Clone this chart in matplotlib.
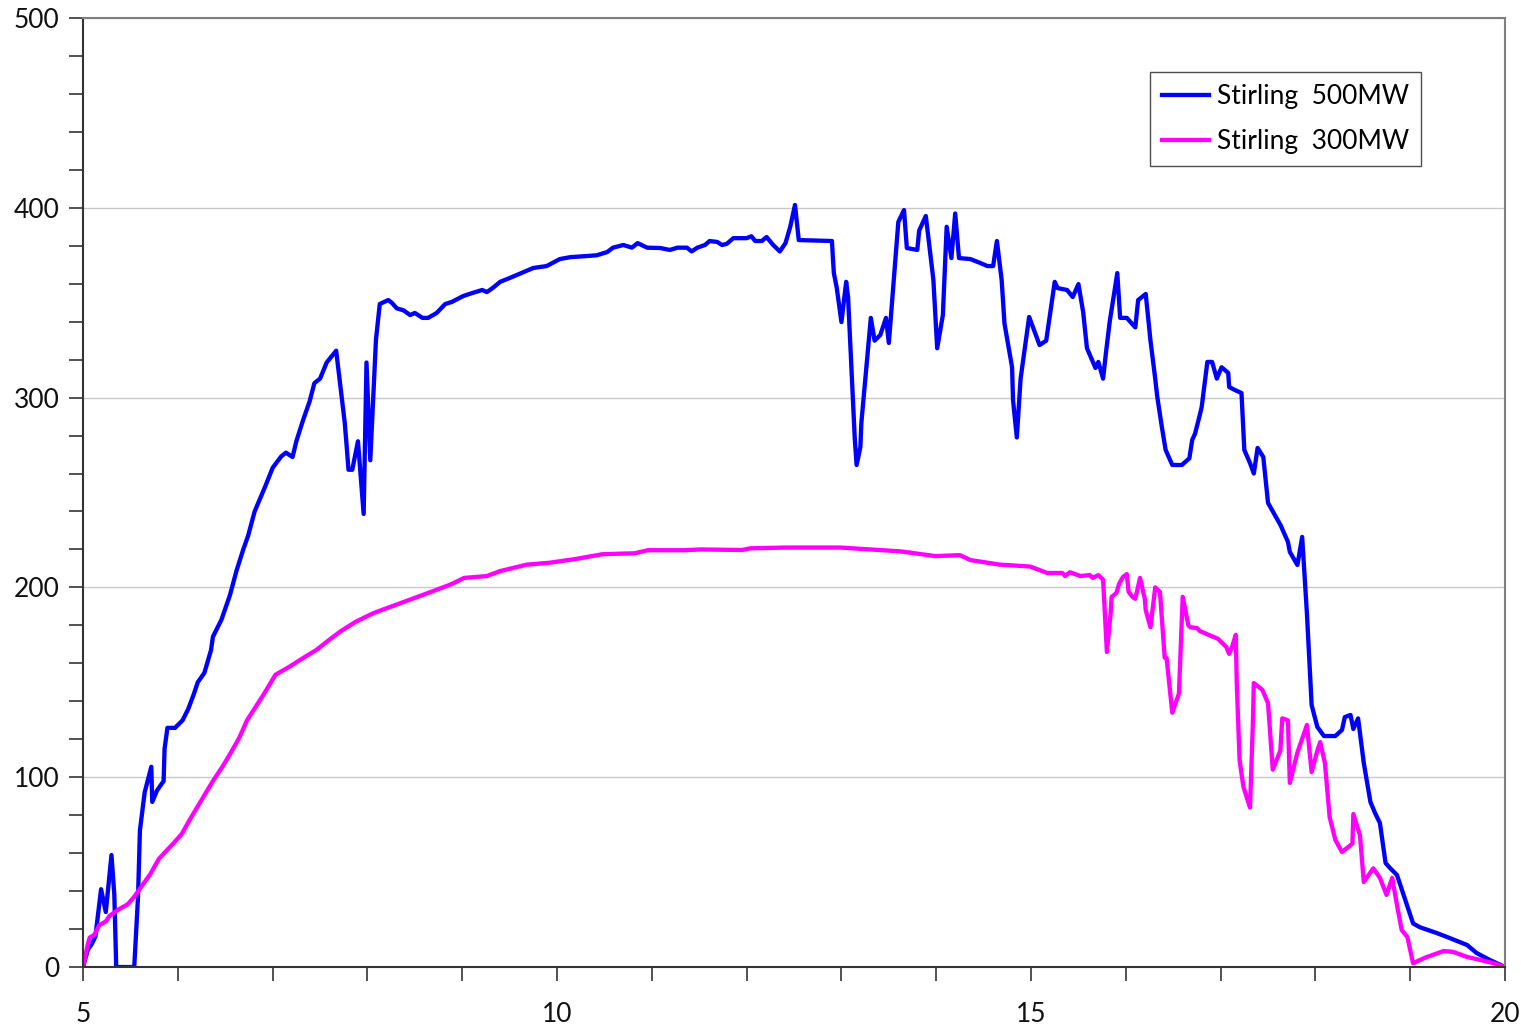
import matplotlib
matplotlib.use('Agg')
import matplotlib.pyplot as plt
from matplotlib.ticker import MultipleLocator, FixedLocator

# hours of day and output (MW)
hours_500 = [5.0, 5.05, 5.09, 5.13, 5.19, 5.24, 5.30, 5.33, 5.35, 5.54, 5.58, 5.60, 5.65, 5.72, 5.73,
             5.78, 5.85, 5.86, 5.89, 5.97, 6.05, 6.11, 6.17, 6.21, 6.28, 6.35, 6.37, 6.46, 6.55, 6.62,
             6.69, 6.74, 6.81, 6.92, 7.0, 7.09, 7.14, 7.21, 7.25, 7.32, 7.39, 7.44, 7.50, 7.57, 7.67,
             7.76, 7.78, 7.80, 7.84, 7.90, 7.96, 7.99, 8.03, 8.09, 8.13, 8.22, 8.26, 8.31, 8.38, 8.45,
             8.50, 8.58, 8.64, 8.73, 8.82, 8.89, 9.01, 9.10, 9.21, 9.26, 9.32, 9.40, 9.50, 9.64, 9.75,
             9.89, 10.03, 10.14, 10.32, 10.42, 10.53, 10.59, 10.70, 10.79, 10.85, 10.95, 11.09, 11.19,
             11.27, 11.37, 11.42, 11.48, 11.56, 11.61, 11.69, 11.74, 11.79, 11.86, 12.0, 12.05, 12.09,
             12.16, 12.21, 12.28, 12.35, 12.41, 12.46, 12.51, 12.55, 12.90, 12.91, 12.92, 12.95, 13.0,
             13.05, 13.07, 13.14, 13.16, 13.20, 13.21, 13.31, 13.35, 13.41, 13.47, 13.50, 13.60, 13.66,
             13.69, 13.80, 13.82, 13.89, 13.97, 14.01, 14.07, 14.11, 14.16, 14.20, 14.24, 14.36, 14.46,
             14.54, 14.60, 14.64, 14.69, 14.72, 14.80, 14.81, 14.85, 14.89, 14.98, 15.09, 15.16, 15.25,
             15.28, 15.38, 15.44, 15.50, 15.55, 15.59, 15.68, 15.71, 15.76, 15.79, 15.83, 15.91, 15.94,
             16.01, 16.10, 16.13, 16.21, 16.26, 16.31, 16.33, 16.38, 16.42, 16.49, 16.59, 16.67, 16.70,
             16.73, 16.78, 16.80, 16.86, 16.91, 16.96, 17.01, 17.08, 17.09, 17.15, 17.22, 17.25, 17.31,
             17.35, 17.39, 17.45, 17.50, 17.63, 17.71, 17.73, 17.81, 17.86, 17.91, 17.96, 18.02, 18.09,
             18.21, 18.28, 18.31, 18.37, 18.40, 18.45, 18.51, 18.58, 18.63, 18.68, 18.74, 18.79, 18.86,
             19.03, 19.10, 19.28, 19.39, 19.60, 19.70, 19.84, 20.0]
mw_500 = [0, 9, 12, 16, 41, 29, 59, 38, 0, 0, 37, 72, 92, 105.5, 87,
          93, 98, 115, 126, 126, 130, 136, 144, 150, 155, 167, 174, 183, 196, 209,
          220, 227, 240, 253, 263, 269, 271, 268.7, 277, 288, 298, 307.6, 310, 318.5, 324.7,
          287, 275, 262, 262, 277, 238.7, 318.5, 267, 330.6, 349.3, 351.4, 349.8, 347, 346, 343.5,
          344.6, 342, 342, 344.6, 349.3, 350.4, 353.5, 355, 356.7, 355.6, 357.7, 361, 363, 366, 368.3,
          369.3, 373, 374, 374.6, 375, 376.7, 379, 380.4, 379, 381.4, 379, 378.8, 377.8,
          379, 379, 377, 379, 380.4, 382.5, 382, 380.4, 381, 384, 384, 385, 382.5,
          382.5, 384.6, 380.4, 377, 381.4, 390, 401.5, 383, 382.5, 373.5, 365.6, 358, 339.8,
          361, 353, 279, 264.5, 274, 286.6, 342, 330, 333, 342, 328.8, 392.5, 398.8,
          378.8, 377.8, 388, 395.7, 362, 326, 343.5, 390, 373.5, 397, 373.5, 373, 371,
          369.3, 369.3, 382.5, 362, 339, 316, 298.7, 279, 310, 342.5, 327.7, 330, 361,
          357.7, 356.7, 353, 359.8, 345, 326, 315.6, 318.8, 310, 323.5, 340, 365.6, 342,
          342, 337, 351.4, 354.6, 330, 310, 301, 284.5, 272.4, 264.5, 264.5, 268, 277.7,
          281, 290.8, 295, 318.8, 318.8, 310, 316, 313, 305.6, 304, 302.4, 272.4, 265.5,
          260, 273.5, 268.7, 244.5, 233, 224, 218.7, 211.8, 226.6, 186.5, 138, 126.5, 121.7,
          121.7, 124.9, 131.7, 132.8, 125.4, 131, 107.5, 87, 81, 75.9, 54.8, 52, 48.5,
          23, 21, 17.9, 15.8, 11.6, 7.4, 3.7, 0]

hours_300 = [5.0, 5.05, 5.07, 5.12, 5.17, 5.24, 5.28, 5.38, 5.47, 5.54, 5.61, 5.71, 5.80, 5.95, 6.04,
             6.13, 6.25, 6.37, 6.47, 6.56, 6.65, 6.73, 6.82, 6.91, 7.03, 7.17, 7.36, 7.46, 7.60, 7.72,
             7.88, 8.07, 8.31, 8.50, 8.69, 8.88, 9.02, 9.26, 9.40, 9.68, 9.92, 10.20, 10.48, 10.82,
             10.96, 11.34, 11.52, 11.95, 12.04, 12.41, 12.99, 13.30, 13.62, 13.99, 14.25, 14.36, 14.67,
             14.99, 15.17, 15.33, 15.36, 15.41, 15.52, 15.62, 15.65, 15.71, 15.76, 15.77, 15.80, 15.84,
             15.85, 15.90, 15.93, 15.97, 16.01, 16.03, 16.07, 16.10, 16.15, 16.20, 16.21, 16.26, 16.31,
             16.36, 16.41, 16.43, 16.49, 16.56, 16.60, 16.66, 16.68, 16.75, 16.78, 16.92, 16.97, 17.06,
             17.09, 17.12, 17.16, 17.17, 17.20, 17.24, 17.31, 17.34, 17.35, 17.44, 17.50, 17.55, 17.63,
             17.65, 17.71, 17.73, 17.81, 17.91, 17.96, 18.02, 18.05, 18.10, 18.15, 18.21, 18.28, 18.39,
             18.40, 18.47, 18.51, 18.61, 18.68, 18.75, 18.81, 18.86, 18.91, 18.97, 19.03, 19.16, 19.35,
             19.45, 19.60, 19.74, 19.88, 20.0]
mw_300 = [0, 12, 15.5, 17, 22, 24, 27, 30.5, 33, 37, 42, 49, 57, 65, 70,
          78, 88, 98, 105.5, 113, 121, 130, 137, 144, 154, 158, 164, 167, 172.5, 177,
          182, 186.6, 191, 194.5, 198, 201.6, 205, 206, 208.6, 212, 213, 215, 217.5, 218,
          219.6, 219.6, 220, 219.7, 220.6, 221, 221, 220, 219, 216.5, 217, 214.4, 212,
          211, 207.6, 207.6, 206, 208, 206, 206.5, 205, 206.5, 204, 195, 166, 186.5,
          195, 197, 202, 205.5, 207, 197.6, 195, 194, 205, 194, 188, 179, 200,
          197.6, 163, 162.8, 134, 144, 195, 180, 179, 178.6, 177, 174, 173, 168.6,
          165, 168.6, 175, 149.6, 109, 95, 84, 128.5, 149.6, 146, 139, 104, 114,
          131, 130, 97, 113, 127.5, 102.7, 114, 118.5, 107.5, 79, 67, 60.6, 65,
          80.6, 69.5, 44.8, 52, 47, 38, 47, 32.7, 19.5, 15.8, 2, 5, 8.4,
          8, 5.3, 3.7, 2, 0]

plt.rcParams['font.family'] = ['Lato', 'DejaVu Sans']

fig = plt.figure(figsize=(15.21, 10.28), dpi=100)
ax = fig.add_axes([0.0546, 0.0593, 0.9349, 0.9232])

ax.plot(hours_500, mw_500, color='#0000ff', lw=3.1, solid_joinstyle='round', label='Stirling  500MW')
ax.plot(hours_300, mw_300, color='#ff00ff', lw=3.1, solid_joinstyle='round', label='Stirling  300MW')

ax.set_xlim(5, 20)
ax.set_ylim(0, 500)
ax.xaxis.set_major_locator(FixedLocator([5, 10, 15, 20]))
ax.xaxis.set_minor_locator(MultipleLocator(1))
ax.yaxis.set_major_locator(MultipleLocator(100))
ax.yaxis.set_minor_locator(MultipleLocator(20))
ax.grid(axis='y', which='major', color='#c8c8c8', lw=1)
ax.set_axisbelow(True)

ax.tick_params(axis='both', which='both', direction='out', length=10, width=1.2,
               color='#333333', labelsize=19, labelcolor='#111111')
ax.tick_params(axis='x', which='major', pad=15)
ax.tick_params(axis='y', which='major', pad=7)

for s in ['left', 'bottom']:
    ax.spines[s].set_color('#333333')
    ax.spines[s].set_linewidth(1.5)
for s in ['top', 'right']:
    ax.spines[s].set_color('#7f7f7f')
    ax.spines[s].set_linewidth(1.5)

leg = ax.legend(loc='upper right', bbox_to_anchor=(0.941, 0.943), fontsize=19,
                frameon=True, fancybox=False, handlelength=1.8, handletextpad=0.3,
                borderpad=0.45, labelspacing=0.75, borderaxespad=0)
leg.get_frame().set_edgecolor('#222222')
leg.get_frame().set_linewidth(1.0)

fig.savefig('out.png', dpi=100)
